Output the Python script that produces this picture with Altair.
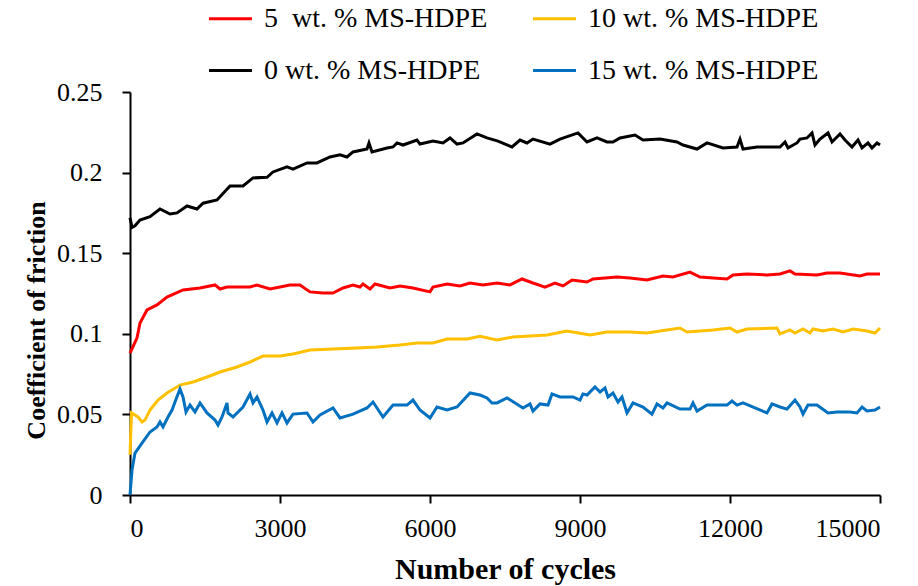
import altair as alt
import pandas as pd

# ---- data ----
series_names = ["5\u00a0 wt. % MS-HDPE", "10 wt. % MS-HDPE", "0 wt. % MS-HDPE", "15 wt. % MS-HDPE"]
series_colors = ["#FF0000", "#FFC000", "#000000", "#0070C0"]

black_x = [0, 40, 100, 200, 400, 600, 800, 940, 1140, 1340, 1460, 1740, 2000, 2260, 2460, 2740, 2860, 3140,
           3260, 3540, 3740, 4000, 4200, 4340, 4460, 4740, 4780, 4840, 5140, 5260, 5340, 5460, 5740, 5800,
           6060, 6260, 6400, 6540, 6660, 6940, 7140, 7360, 7640, 7800, 7940, 8060, 8400, 8600, 8960, 9140,
           9340, 9540, 9660, 9800, 10100, 10260, 10600, 10940, 11060, 11340, 11540, 11860, 12140, 12200,
           12260, 12540, 13000, 13100, 13160, 13340, 13400, 13540, 13640, 13700, 13800, 13960, 14040, 14200,
           14300, 14440, 14560, 14640, 14760, 14840, 14940, 15000]
black_y = [0.172, 0.166, 0.167, 0.1706, 0.1727, 0.1774, 0.1743, 0.175, 0.1793, 0.1774, 0.181, 0.183, 0.1917,
           0.1917, 0.1967, 0.1971, 0.2004, 0.2035, 0.2022, 0.206, 0.206, 0.2097, 0.211, 0.2097, 0.2128, 0.2146,
           0.2184, 0.2128, 0.2153, 0.2159, 0.2184, 0.2171, 0.2202, 0.2177, 0.2196, 0.2184, 0.2215, 0.2177,
           0.2184, 0.224, 0.2215, 0.2195, 0.2159, 0.2202, 0.2184, 0.2208, 0.2177, 0.2208, 0.2246, 0.219,
           0.2215, 0.219, 0.219, 0.2215, 0.2233, 0.2202, 0.2208, 0.219, 0.2171, 0.2146, 0.2184, 0.2153,
           0.2159, 0.2208, 0.2146, 0.2159, 0.2159, 0.219, 0.2153, 0.2184, 0.2208, 0.2215, 0.2246, 0.2171,
           0.2208, 0.2246, 0.219, 0.224, 0.2202, 0.2159, 0.2202, 0.2153, 0.2184, 0.2153, 0.2184, 0.2171]

red_x = [0, 140, 200, 340, 540, 740, 1060, 1400, 1700, 1800, 1940, 2400, 2540, 2800, 3200, 3400, 3600, 3860,
         4060, 4260, 4460, 4600, 4660, 4800, 4900, 5200, 5400, 5660, 6000, 6060, 6340, 6600, 6800, 7060,
         7340, 7600, 7840, 8060, 8300, 8500, 8660, 8840, 9140, 9260, 9740, 10000, 10340, 10660, 10860,
         11200, 11400, 11940, 12060, 12340, 12740, 13000, 13200, 13300, 13740, 13940, 14200, 14600, 14740, 15000]
red_y = [0.088, 0.0974, 0.1067, 0.1148, 0.1179, 0.1228, 0.1272, 0.1284, 0.1303, 0.1278, 0.129, 0.129, 0.1303,
         0.1278, 0.1303, 0.1303, 0.126, 0.1253, 0.1253, 0.1284, 0.1303, 0.129, 0.1309, 0.1278, 0.1309, 0.1284,
         0.1297, 0.1284, 0.126, 0.129, 0.1309, 0.1297, 0.1315, 0.1303, 0.1315, 0.1303, 0.134, 0.1315, 0.129,
         0.1315, 0.1297, 0.1334, 0.1321, 0.134, 0.1352, 0.1346, 0.1334, 0.1359, 0.1352, 0.1383, 0.1352, 0.134,
         0.1365, 0.1371, 0.1365, 0.1371, 0.139, 0.1371, 0.1365, 0.1377, 0.1377, 0.1359, 0.1371, 0.1371]

yellow_x = [0, 30, 160, 240, 300, 400, 560, 740, 1000, 1260, 1540, 1800, 2140, 2400, 2660, 3000, 3260, 3600,
            4060, 4540, 4940, 5400, 5740, 6060, 6340, 6740, 7000, 7340, 7660, 8340, 8740, 9200, 9540, 10000,
            10340, 10600, 11000, 11140, 11660, 12000, 12140, 12340, 12940, 13000, 13200, 13300, 13460, 13600,
            13660, 13860, 14060, 14260, 14460, 14740, 14900, 15000]
yellow_y = [0.025, 0.0509, 0.0484, 0.0453, 0.0465, 0.0527, 0.0589, 0.0633, 0.0682, 0.0701, 0.0732, 0.0763,
            0.0794, 0.0825, 0.0862, 0.0862, 0.0875, 0.09, 0.0906, 0.0912, 0.0918, 0.093, 0.0943, 0.0943, 0.0968,
            0.0968, 0.0984, 0.0962, 0.098, 0.0993, 0.1017, 0.0993, 0.1011, 0.1011, 0.1005, 0.1017, 0.1036,
            0.1011, 0.1024, 0.1036, 0.1011, 0.103, 0.1036, 0.0999, 0.1024, 0.1005, 0.103, 0.1005, 0.103, 0.1017,
            0.103, 0.1011, 0.103, 0.1017, 0.1005, 0.1036]

blue_x = [0, 40, 100, 240, 400, 540, 600, 660, 760, 840, 900, 1000, 1060, 1120, 1200, 1300, 1400, 1540, 1700,
          1760, 1840, 1940, 1960, 2060, 2260, 2400, 2460, 2540, 2660, 2740, 2840, 2940, 3040, 3140, 3260, 3540,
          3660, 3800, 4060, 4200, 4460, 4740, 4860, 5060, 5260, 5540, 5660, 5800, 6000, 6140, 6340, 6540, 6800,
          7000, 7140, 7240, 7340, 7540, 7860, 8000, 8060, 8200, 8360, 8440, 8600, 8860, 9000, 9060, 9140, 9300,
          9400, 9500, 9560, 9660, 9760, 9840, 9940, 10060, 10260, 10440, 10540, 10660, 10740, 11000, 11200,
          11260, 11340, 11540, 11940, 12040, 12140, 12260, 12740, 12840, 13000, 13140, 13300, 13400, 13460,
          13560, 13740, 13960, 14140, 14400, 14540, 14640, 14740, 14900, 15000]
blue_y = [0.0, 0.0155, 0.026, 0.0322, 0.0391, 0.0422, 0.0453, 0.0422, 0.0484, 0.0527, 0.0577, 0.0658, 0.0608,
          0.0515, 0.0558, 0.0515, 0.0571, 0.0509, 0.0465, 0.0434, 0.0484, 0.0571, 0.0509, 0.0484, 0.0546, 0.0627,
          0.0571, 0.0608, 0.0527, 0.0453, 0.0509, 0.0447, 0.0509, 0.0447, 0.0502, 0.0509, 0.0453, 0.0496, 0.054,
          0.0478, 0.0502, 0.054, 0.0577, 0.0484, 0.0558, 0.0558, 0.0589, 0.0527, 0.0478, 0.0546, 0.0527, 0.0546,
          0.0633, 0.062, 0.0602, 0.0571, 0.0571, 0.0602, 0.054, 0.0565, 0.0521, 0.0565, 0.0558, 0.0627, 0.0608,
          0.0608, 0.0589, 0.0627, 0.062, 0.067, 0.0639, 0.0664, 0.0608, 0.0633, 0.0577, 0.0608, 0.0509, 0.0571,
          0.0546, 0.0502, 0.0565, 0.054, 0.0571, 0.0533, 0.0533, 0.0571, 0.0521, 0.0558, 0.0558, 0.0583, 0.0558,
          0.0571, 0.0509, 0.0565, 0.0546, 0.0533, 0.0589, 0.0546, 0.0502, 0.0558, 0.0558, 0.0509, 0.0515,
          0.0515, 0.0509, 0.0546, 0.0521, 0.0527, 0.0546]

x_ticks = [0, 3000, 6000, 9000, 12000, 15000]
y_ticks = [0, 0.05, 0.1, 0.15, 0.2, 0.25]

frames = []
for name, xs, ys in [
    (series_names[2], black_x, black_y),
    (series_names[0], red_x, red_y),
    (series_names[1], yellow_x, yellow_y),
    (series_names[3], blue_x, blue_y),
]:
    frames.append(pd.DataFrame({"cycles": xs, "cof": ys, "series": name}))
df = pd.concat(frames, ignore_index=True)

FONT = "Liberation Serif"

chart = alt.Chart(df).mark_line(strokeWidth=3).encode(
    x=alt.X("cycles:Q",
            scale=alt.Scale(domain=[0, 15000], nice=False),
            axis=alt.Axis(values=x_ticks, format="d", title="Number of cycles",
                          labelPadding=12, titleY=83, titleBaseline="alphabetic",
                          titleFontSize=30)),
    y=alt.Y("cof:Q",
            scale=alt.Scale(domain=[0, 0.25], nice=False),
            axis=alt.Axis(values=y_ticks, format="~g", title="Coefficient of friction",
                          labelPadding=20, titleX=-86, titleY=228, titleBaseline="alphabetic",
                          titleFontSize=26)),
    color=alt.Color("series:N",
                    scale=alt.Scale(domain=series_names, range=series_colors),
                    legend=alt.Legend(title=None, orient="none", legendX=77, legendY=-97,
                                      direction="horizontal",
                                      columns=2, columnPadding=38, rowPadding=14,
                                      symbolType="stroke", symbolSize=1850, symbolStrokeWidth=3,
                                      labelFont=FONT, labelFontSize=28, labelColor="black",
                                      labelLimit=400, labelOffset=10, padding=0)),
    detail="series:N",
).properties(
    width=750, height=403,
    autosize=alt.AutoSizeParams(type="none"),
    padding={"left": 130, "top": 92, "right": 38, "bottom": 91},
).configure_view(
    stroke=None
).configure_axis(
    grid=False,
    domainColor="black", domainWidth=2,
    tickColor="black", tickWidth=2, tickSize=8,
    labelFont=FONT, labelFontSize=26, labelColor="black",
    titleFont=FONT, titleFontWeight="bold", titleColor="black",
)

chart.save("out.html", embed_options={"renderer": "svg", "actions": False})
